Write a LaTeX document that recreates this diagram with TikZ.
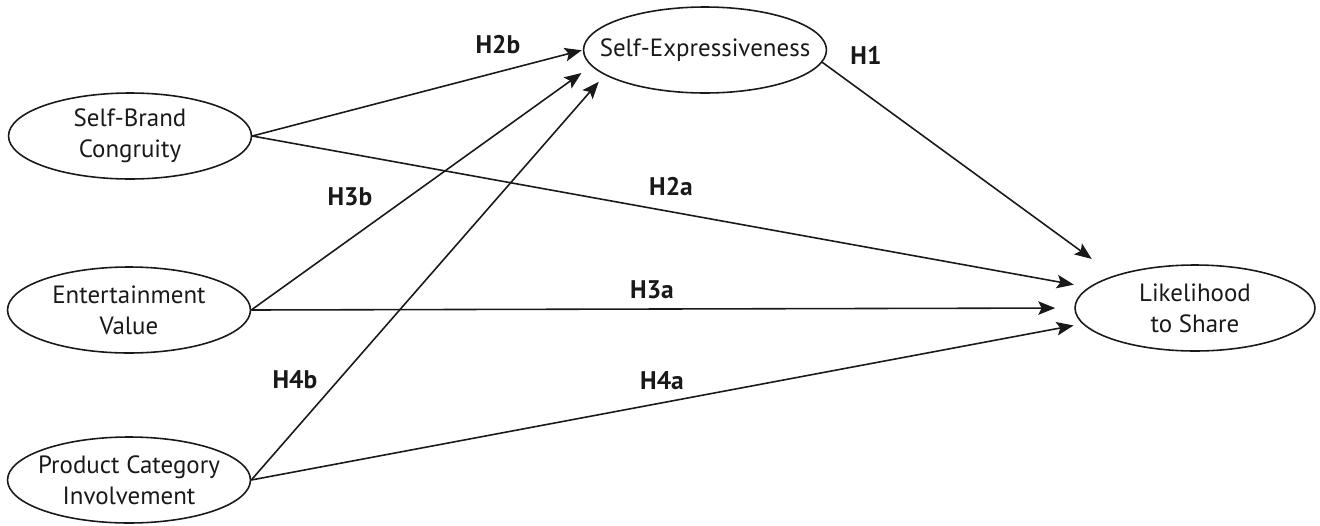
\documentclass[tikz,border=0pt]{standalone}
\usepackage{fontspec}
\setmainfont{PT Sans}
\usetikzlibrary{shapes.geometric,arrows.meta}
\begin{document}
\begin{tikzpicture}[x=0.02cm,y=-0.02cm,
  construct/.style={ellipse, draw=black!90, line width=0.9pt, minimum width=4.86cm, minimum height=1.72cm, inner sep=0pt},
  ctext/.style={align=center, text=black!90, font=\fontsize{14.2}{17.6}\selectfont},
  link/.style={draw=black!90, line width=0.9pt, -{Stealth[length=3.4mm,width=2.7mm,inset=0.7mm]}},
  hyp/.style={text=black!90, font=\bfseries\fontsize{14.5}{16}\selectfont}]
\useasboundingbox (0,0) rectangle (1320,525);
% constructs
\node[construct] (SBC) at (130,136) {};
\node[ctext] (SBCt) at (SBC) {Self-Brand\\Congruity};
\node[construct] (EV) at (129,310) {};
\node[ctext] (EVt) at (EV) {Entertainment\\Value};
\node[construct] (PCI) at (129,480) {};
\node[ctext] (PCIt) at (PCI) {Product Category\\Involvement};
\node[construct] (SE) at (705,50) {};
\node[ctext] (SEt) at (SE) {Self-Expressiveness};
\node[construct, minimum width=4.8cm] (LS) at (1195,308) {};
\node[ctext] (LSt) at (LS) {Likelihood\\to Share};
% paths
\draw[link, shorten >=0.02cm] (SBC.east) -- (SE.west);
\draw[link, shorten >=0.24cm] (EV.east) -- (SE.188);
\draw[link, shorten >=0.18cm] (PCI.east) -- (SE.194);
\draw[link, shorten >=0.56cm] (SE.-6) -- (LS.158);
\draw[link, shorten >=0.3cm] (SBC.east) -- (LS.169);
\draw[link, shorten >=0.38cm] (EV.east) -- (LS.west);
\draw[link, shorten >=0.18cm] (PCI.east) -- (LS.188);
% labels
\node[hyp] (h2b) at (498,45) {H2b};
\node[hyp] (h1) at (866,55) {H1};
\node[hyp] (h3b) at (350,197) {H3b};
\node[hyp] (h2a) at (671,186) {H2a};
\node[hyp] (h3a) at (652,290) {H3a};
\node[hyp] (h4b) at (295,380) {H4b};
\node[hyp] (h4a) at (662,381) {H4a};
\end{tikzpicture}
\end{document}
